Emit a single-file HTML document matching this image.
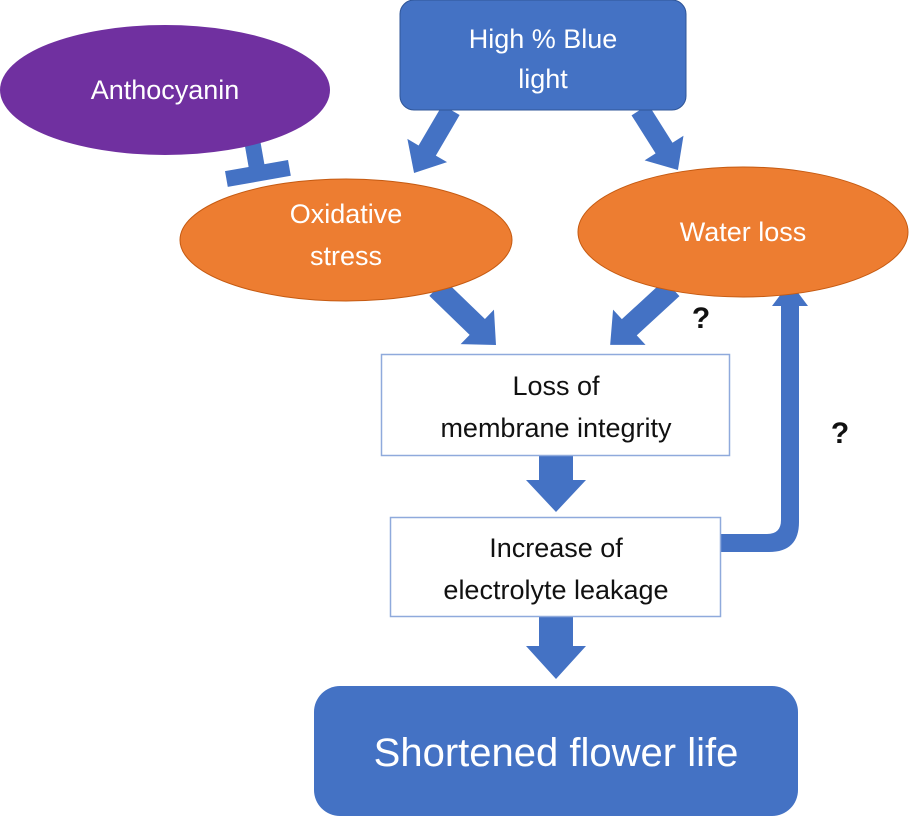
<!DOCTYPE html>
<html><head><meta charset="utf-8"><style>
html,body{margin:0;padding:0;background:#fff;}
svg{display:block;}
text{font-family:"Liberation Sans",sans-serif;}
</style></head><body>
<svg width="909" height="819" viewBox="0 0 909 819" xmlns="http://www.w3.org/2000/svg">
<rect width="909" height="819" fill="#fff"/>
<g fill="#4472c4">
<g transform="translate(451,110) rotate(120.4)"><polygon points="0,-10 47,-10 47,-23 73,0 47,23 47,10 0,10"/></g>
<g transform="translate(640,110) rotate(57.7)"><polygon points="0,-10 45,-10 45,-23 71,0 45,23 45,10 0,10"/></g>
<g transform="translate(437,288) rotate(44)"><polygon points="0,-11 56,-11 56,-24 82,0 56,24 56,11 0,11"/></g>
<g transform="translate(672,288) rotate(137.4)"><polygon points="0,-11 58,-11 58,-24 84,0 58,24 58,11 0,11"/></g>
<polygon points="539,456 573,456 573,480 586,480 556,512 526,480 539,480"/>
<polygon points="539,616 573,616 573,646 586,646 556,679 526,646 539,646"/>
<path d="M720,534 L767,534 Q781,534 781,520 L781,305 L799,305 L799,522 Q799,552 769,552 L720,552 Z"/>
<polygon points="772,306 808,306 790,282"/>
<g transform="translate(252,140) rotate(80)"><rect x="0" y="-8" width="28" height="16"/><rect x="26" y="-32" width="16" height="64"/></g>
</g>
<rect x="400" y="0" width="286" height="110" rx="14" fill="#4472c4" stroke="#2f5597" stroke-width="1"/>
<text x="543" y="48" font-size="27" fill="#fff" text-anchor="middle">High % Blue</text>
<text x="543" y="88" font-size="27" fill="#fff" text-anchor="middle">light</text>
<ellipse cx="165" cy="90" rx="165" ry="65" fill="#7030a0"/>
<text x="165" y="99" font-size="27" fill="#fff" text-anchor="middle">Anthocyanin</text>
<ellipse cx="346" cy="240" rx="166" ry="61" fill="#ed7d31" stroke="#c55a11" stroke-width="1"/>
<text x="346" y="223" font-size="27" fill="#fff" text-anchor="middle">Oxidative</text>
<text x="346" y="265" font-size="27" fill="#fff" text-anchor="middle">stress</text>
<ellipse cx="743" cy="232" rx="165" ry="65" fill="#ed7d31" stroke="#c55a11" stroke-width="1"/>
<text x="743" y="241" font-size="27" fill="#fff" text-anchor="middle">Water loss</text>
<rect x="381.5" y="354.5" width="348" height="101" fill="#fff" stroke="#8faadc" stroke-width="1.5"/>
<text x="556" y="395" font-size="27" fill="#111" text-anchor="middle">Loss of</text>
<text x="556" y="437" font-size="27" fill="#111" text-anchor="middle">membrane integrity</text>
<rect x="390.5" y="517.5" width="330" height="99" fill="#fff" stroke="#8faadc" stroke-width="1.5"/>
<text x="556" y="557" font-size="27" fill="#111" text-anchor="middle">Increase of</text>
<text x="556" y="599" font-size="27" fill="#111" text-anchor="middle">electrolyte leakage</text>
<rect x="314" y="686" width="484" height="130" rx="26" fill="#4472c4"/>
<text x="556" y="766" font-size="40" fill="#fff" text-anchor="middle">Shortened flower life</text>
<text x="701" y="328" font-size="30" font-weight="bold" fill="#111" text-anchor="middle">?</text>
<text x="840" y="443" font-size="30" font-weight="bold" fill="#111" text-anchor="middle">?</text>
</svg>
</body></html>
